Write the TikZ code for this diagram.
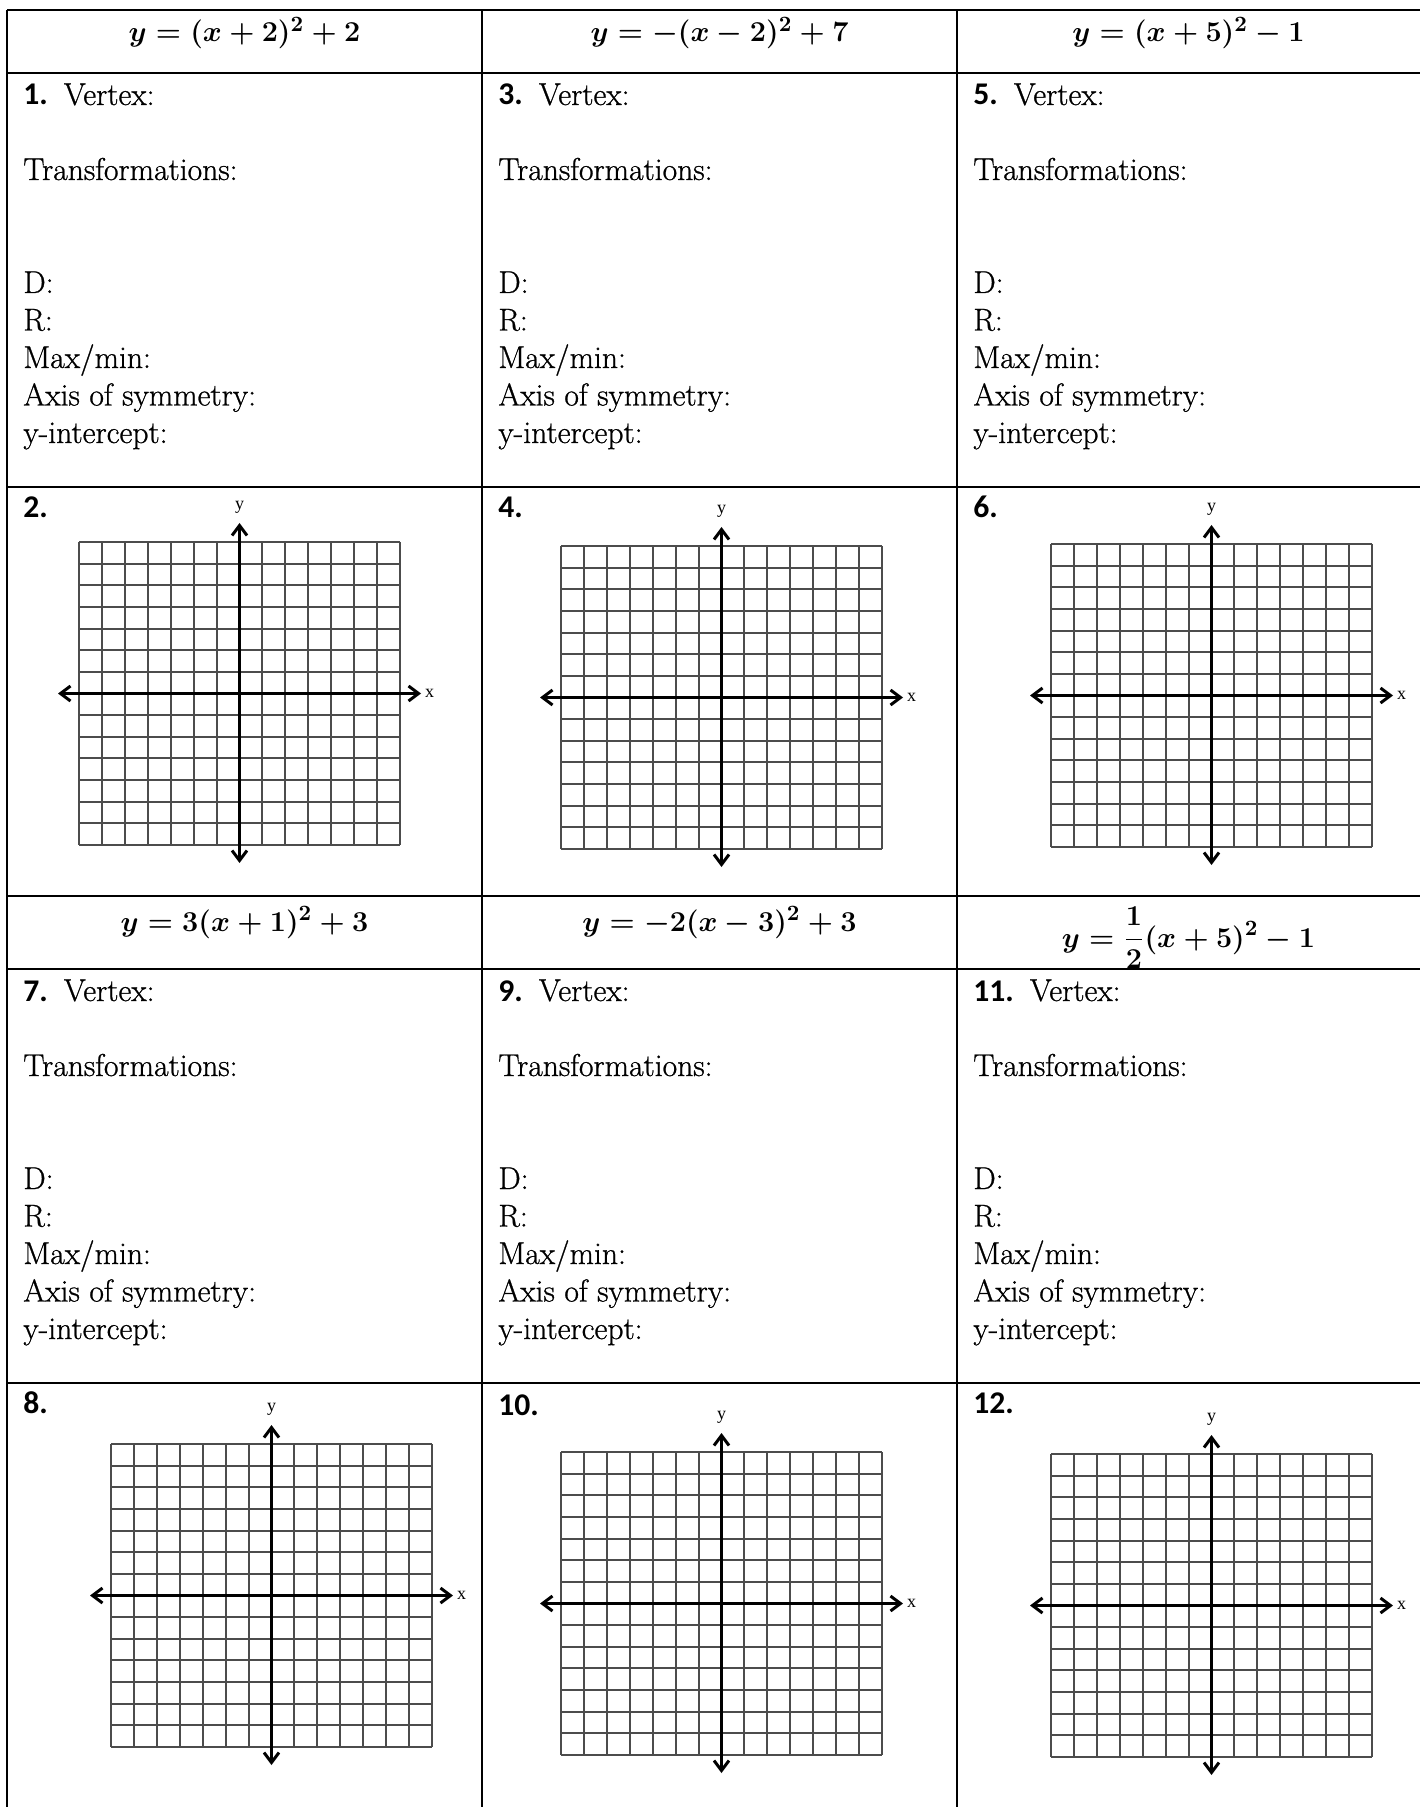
\documentclass[tikz,border=0pt]{standalone}
\usepackage{fontspec}
\setmainfont{Latin Modern Roman}[FakeBold=0.8]
\newfontfamily\numfont{Carlito}
\newfontfamily\axisfont{Liberation Serif}
\usetikzlibrary{arrows.meta}

\begin{document}
\begin{tikzpicture}[x=0.5pt,y=-0.5pt,
  rule/.style={line width=1.35pt},
  gridline/.style={line width=0.7pt,black!70},
  axis/.style={line width=1.5pt,
    {Straight Barb[length=5pt,width=7.5pt]}-{Straight Barb[length=5pt,width=7.5pt]}},
  eqn/.style={anchor=base,inner sep=0pt,font=\fontsize{15.6}{18}\selectfont\boldmath},
  body/.style={anchor=base west,inner sep=0pt,font=\fontsize{15.8}{18.75}\selectfont},
  axlbl/.style={inner sep=0pt,font=\fontsize{9}{10}\axisfont}]
  \useasboundingbox (0,0) rectangle (1420,1807);
  % ---- table rules ----
  \foreach \y in {10,73,487,896,969,1383}
    \draw[rule] (7,\y) -- (1420,\y);
  \foreach \x in {7,482,957}
    \draw[rule] (\x,10) -- (\x,1807);
  % ---- equation headers ----
  \node[eqn] (eqA) at (244.5,42) {$y=(x+2)^2+2$};
  \node[eqn] (eqB) at (719.5,42) {$y=-(x-2)^2+7$};
  \node[eqn] (eqC) at (1188.5,42) {$y=(x+5)^2-1$};
  \node[eqn] (eqD) at (244.5,931) {$y=3(x+1)^2+3$};
  \node[eqn] (eqE) at (719.5,931) {$y=-2(x-3)^2+3$};
  \node[eqn] (eqF) at (1188.5,947) {$\displaystyle y=\frac{1}{2}(x+5)^2-1$};
  % ---- question text ----
  \foreach \cx/\q/\y in {23/1/105, 498/3/105, 973/5/105, 23/7/1001, 498/9/1001, 973/11/1001} {
    \node[body] (vtx\q) at (\cx,\y) {{\numfont\bfseries\q.}\hspace{8pt}Vertex:};
    \foreach \t/\dy [count=\k] in {Transformations:/75, D:/188, R:/225.5, {Max/min:}/263,
                                  Axis of symmetry:/300.5, y-intercept:/338}
      \node[body] (txt\q-\k) at (\cx,\y+\dy) {\t};
  }
  % ---- coordinate planes (14 x 14 squares) ----
  \foreach \cx/\cy/\q in {239.5/693.5/2, 721.5/697.5/4, 1211.5/695.5/6,
                          271.5/1595.5/8, 721.5/1603.5/10, 1211.5/1605.5/12} {
    \begin{scope}[shift={(\cx,\cy)}]
      \draw[gridline] \foreach \i in {0,...,14} {
        ({-160.5+round(\i*22.93)},-151.5) -- ++(0,303)
        (-160.5,{-151.5+round(\i*21.64)}) -- ++(321,0)
      };
      \coordinate (xl\q) at (-181.5,0);
      \coordinate (xr\q) at (181.5,0);
      \coordinate (yt\q) at (0,-170.5);
      \coordinate (yb\q) at (0,169.5);
      \draw[axis] (xl\q) -- (xr\q);
      \draw[axis] (yt\q) -- (yb\q);
      \node[axlbl] (xlab\q) at (190,0) {x};
      \node[axlbl] (ylab\q) at (0,-186) {y};
    \end{scope}
  }
  % ---- plane numbers ----
  \foreach \cx/\y/\q in {23/518/2, 498/518/4, 973/518/6, 23/1413/8, 498/1415/10, 973/1413/12}
    \node[body] (lbl\q) at (\cx,\y) {\numfont\bfseries\q.};
\end{tikzpicture}
\end{document}
